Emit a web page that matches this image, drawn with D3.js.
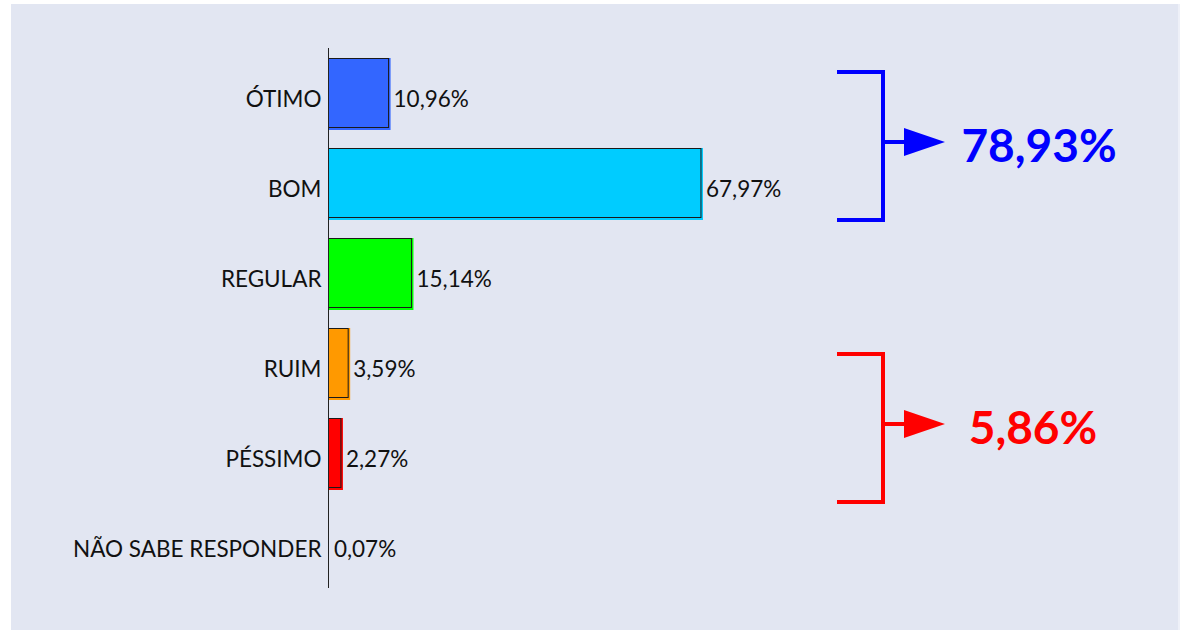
<!DOCTYPE html>
<html><head><meta charset="utf-8">
<script src="https://cdn.jsdelivr.net/npm/d3@7"></script>
<style>html,body{margin:0;padding:0;background:#fff;}svg{display:block;}</style>
</head><body>
<svg id="c" width="1183" height="630"></svg>
<script>
const categories = ["ÓTIMO","BOM","REGULAR","RUIM","PÉSSIMO","NÃO SABE RESPONDER"];
const values = [10.96, 67.97, 15.14, 3.59, 2.27, 0.07];
const valueLabels = ["10,96%","67,97%","15,14%","3,59%","2,27%","0,07%"];
const colors = ["#3366ff","#00ccff","#00ff00","#ff9900","#ff0000","#999999"];
const groupLabels = ["78,93%","5,86%"];
const groupColors = ["#0000ff","#ff0000"];

const svg = d3.select("#c");
const font = "Lato, 'Open Sans', sans-serif";
svg.append("rect").attr("x",11).attr("y",4).attr("width",1167).attr("height",626).attr("fill","#e2e6f2");
svg.append("rect").attr("x",1178).attr("y",4).attr("width",2).attr("height",626).attr("fill","#eef0f8");

const x0 = 328.5;
const x = d3.scaleLinear().domain([0,100]).range([x0, x0+548]);
const y = d3.scaleBand().domain(categories).range([48,588]).paddingInner(0.2222).paddingOuter(0.1111);

const g = svg.append("g");
const bars = g.selectAll("g.bar").data(categories).join("g");
bars.append("rect")
  .attr("x", x0)
  .attr("y", d=>y(d))
  .attr("width", (d,i)=> values[i] > 0.5 ? x(values[i])-x0+2 : 0)
  .attr("height", y.bandwidth()+2)
  .attr("fill", (d,i)=>colors[i]);
bars.append("rect")
  .attr("x", x0)
  .attr("y", d=>y(d)+0.5)
  .attr("width", (d,i)=> values[i] > 0.5 ? x(values[i])-x0 : 0)
  .attr("height", y.bandwidth()-1)
  .attr("fill", (d,i)=>colors[i])
  .attr("stroke", "#1a1a1a").attr("stroke-width", 1);

g.selectAll("text.val").data(categories).join("text")
  .attr("x", (d,i)=> x(values[i]) + 5)
  .attr("y", d=>y(d)+y.bandwidth()/2 + 6)
  .attr("dy","0.36em")
  .attr("font-family", font).attr("font-size", 22.5).attr("fill","#111")
  .text((d,i)=>valueLabels[i]);

const axis = d3.axisLeft(y).tickSize(0).tickPadding(7);
const ag = svg.append("g").attr("transform",`translate(${x0},0)`).call(axis);
ag.select(".domain").attr("stroke","#222").attr("d","M0,48V588");
ag.selectAll("text").attr("font-family", font).attr("font-size", 22.5).attr("fill","#111")
  .attr("y", 6).attr("dy","0.36em");

const bx = 883, bl = 837;
const ann = [
  {top: y("ÓTIMO")+14, bot: y("BOM")+y.bandwidth()+2, ay: y("ÓTIMO")+84},
  {top: y("RUIM")+26, bot: y("PÉSSIMO")+y.bandwidth()+14, ay: y("RUIM")+96}
];
ann.forEach((a,i)=>{
  const c = groupColors[i];
  const ga = svg.append("g");
  ga.append("path").attr("d",`M${bl},${a.top}H${bx}V${a.bot}H${bl}`)
    .attr("fill","none").attr("stroke",c).attr("stroke-width",4);
  ga.append("path").attr("d",`M${bx},${a.ay}H${906}`).attr("stroke",c).attr("stroke-width",4);
  ga.append("path").attr("d",`M904,${a.ay-14}L945,${a.ay}L904,${a.ay+14}Z`).attr("fill",c);
  ga.append("text").attr("x", i===0?1039:1033).attr("y", a.ay+3).attr("dy","0.36em")
    .attr("text-anchor","middle")
    .attr("font-family", font).attr("font-weight","bold").attr("font-size",46)
    .attr("fill",c).text(groupLabels[i]);
});
</script>
</body></html>
